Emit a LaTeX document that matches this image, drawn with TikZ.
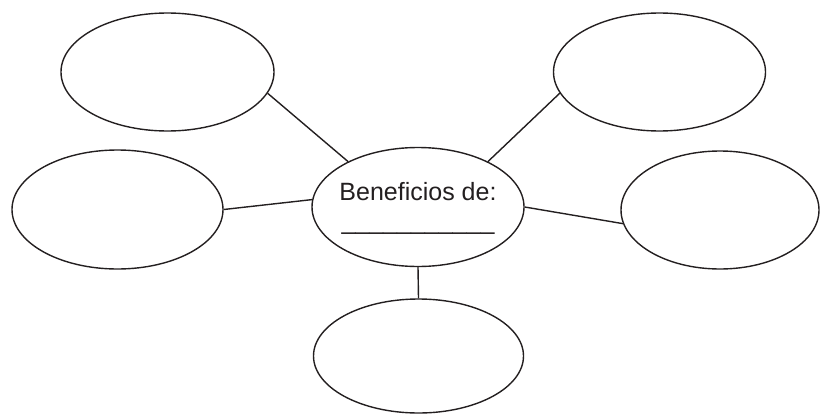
\documentclass[tikz,border=0pt]{standalone}
\usepackage{fontspec}
\setmainfont{Liberation Sans}
\usetikzlibrary{shapes.geometric}
\definecolor{ink}{HTML}{231F20}
\begin{document}
\begin{tikzpicture}[x=1pt,y=-1pt,
  bubble/.style={draw=ink, ellipse, line width=1.4pt, inner sep=0pt},
  link/.style={draw=ink, line width=1.4pt},
  lbl/.style={text=ink, font=\fontsize{25}{30}\selectfont, inner sep=0pt, anchor=base}]
\useasboundingbox (0,0) rectangle (824,415);
\node[bubble, minimum width=213pt, minimum height=118pt] (tl) at (167.5,72) {};
\node[bubble, minimum width=212pt, minimum height=118pt] (tr) at (659.5,72) {};
\node[bubble, minimum width=211pt, minimum height=119pt] (ml) at (117.5,209.5) {};
\node[bubble, minimum width=198pt, minimum height=118pt] (mr) at (720,210) {};
\node[bubble, minimum width=212pt, minimum height=119pt] (c) at (418,207) {};
\node[bubble, minimum width=210pt, minimum height=114pt] (b) at (418.5,356) {};
\node[lbl] (t1) at (418,200) {Beneficios de:};
\node[lbl] (t2) at (418,229) {\_\_\_\_\_\_\_\_\_\_\_};
\draw[link] (tl.-12.7) -- (c.147.3);
\draw[link] (tr.-168.1) -- (c.33.5);
\draw[link] (ml.0) -- (c.176.8);
\draw[link] (mr.-172.6) -- (c.0);
\draw[link] (c.south) -- (b.north);
\end{tikzpicture}
\end{document}
